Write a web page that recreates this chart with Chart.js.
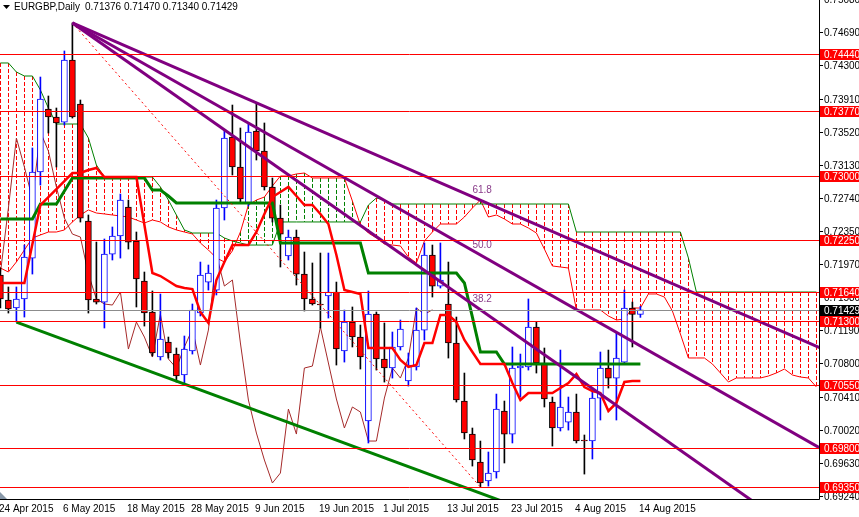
<!DOCTYPE html>
<html>
<head>
<meta charset="utf-8">
<title>EURGBP,Daily</title>
<script src="https://cdn.jsdelivr.net/npm/chart.js@4.4.1/dist/chart.umd.min.js"></script>
<style>
html,body{margin:0;padding:0;background:#ffffff;overflow:hidden;}
canvas{display:block;}
</style>
</head>
<body>
<canvas id="chart" width="859" height="517"></canvas>
<script>
// ---------- DATA ----------
const symbolTitle = 'EURGBP,Daily';
// daily candles, index 0 = 24 Apr 2015 ... index 80 = 14 Aug 2015
const opens = [0.71838,0.71544,0.71450,0.71556,0.72037,0.73048,0.73788,0.73694,0.73635,0.74364,
0.73847,0.72472,0.71556,0.71520,0.72084,0.72296,0.72637,0.72237,0.71767,0.71403,
0.70874,0.71050,0.70909,0.70663,0.70945,0.71391,0.71755,0.71661,0.72625,0.73459,
0.73107,0.72684,0.73530,0.73295,0.72872,0.72507,0.72061,0.72284,0.71849,0.71556,
0.71497,0.71591,0.71638,0.70945,0.71285,0.71109,0.70122,0.71379,0.70851,0.70745,
0.70992,0.70592,0.70757,0.71191,0.72073,0.71708,0.71497,0.71039,0.70357,0.69969,
0.69640,0.69417,0.69523,0.70240,0.69969,0.70745,0.70757,0.71227,0.70804,0.70345,
0.70040,0.70110,0.70228,0.69899,0.69887,0.70392,0.70745,0.70627,0.70815,0.71450,
0.71376];
const highs = [0.71920,0.71697,0.71697,0.72190,0.73330,0.74164,0.73941,0.73800,0.74470,0.74799,
0.73894,0.72543,0.72225,0.72261,0.72402,0.72789,0.72719,0.72343,0.71873,0.71650,
0.71614,0.71109,0.70980,0.71121,0.71497,0.71990,0.71955,0.72719,0.73541,0.73835,
0.73565,0.73624,0.73859,0.73624,0.72977,0.72660,0.72366,0.72366,0.72108,0.71979,
0.72096,0.72096,0.71755,0.71426,0.71462,0.71250,0.71650,0.71403,0.71274,0.71168,
0.71309,0.70921,0.71450,0.72214,0.72190,0.72214,0.71990,0.71344,0.70686,0.70040,
0.69887,0.69758,0.70439,0.70357,0.70992,0.70909,0.71556,0.71285,0.70980,0.70404,
0.70956,0.70404,0.70439,0.69958,0.70510,0.70933,0.70956,0.71156,0.71661,0.71520,
0.71470];
const lows = [0.71450,0.71391,0.71285,0.71344,0.71849,0.72895,0.73506,0.73107,0.73600,0.73682,
0.72460,0.71391,0.71497,0.71215,0.72014,0.72037,0.72143,0.71462,0.71238,0.70886,
0.70839,0.70862,0.70580,0.70557,0.70909,0.71356,0.71661,0.71603,0.72484,0.73013,
0.72684,0.72648,0.73189,0.72836,0.72460,0.71932,0.72014,0.71720,0.71415,0.71485,
0.71215,0.71332,0.70780,0.70815,0.70992,0.70733,0.69864,0.70721,0.70580,0.70627,
0.70956,0.70533,0.70721,0.71074,0.71579,0.71685,0.70862,0.70345,0.69911,0.69593,
0.69347,0.69358,0.69452,0.69629,0.69864,0.70404,0.70721,0.70686,0.70287,0.69828,
0.70005,0.70016,0.69864,0.69499,0.69676,0.70134,0.70510,0.70134,0.70803,0.70992,
0.71340];
const closes = [0.71556,0.71438,0.71556,0.72049,0.73048,0.73906,0.73694,0.73624,0.74364,0.73694,
0.72507,0.71544,0.71520,0.72084,0.72296,0.72719,0.72225,0.71791,0.71391,0.70921,
0.71086,0.70921,0.70651,0.70968,0.71426,0.71838,0.71861,0.72625,0.73447,0.73107,
0.72731,0.73518,0.73295,0.72872,0.72507,0.72319,0.72284,0.71849,0.71556,0.71497,
0.71485,0.71638,0.70968,0.71285,0.71109,0.70874,0.71379,0.70851,0.70745,0.70992,
0.71203,0.70780,0.71191,0.72073,0.71708,0.71779,0.71039,0.70369,0.69981,0.69664,
0.69394,0.69511,0.70263,0.69969,0.70745,0.70768,0.71227,0.70804,0.70381,0.70040,
0.70287,0.70228,0.69887,0.69887,0.70392,0.70745,0.70627,0.70862,0.71450,0.71376,
0.71429];

// Ichimoku lines
const tenkan = [0.71744,0.71744,0.71744,0.71744,0.72202,0.72660,0.72754,0.72848,0.72942,0.73036,
0.73036,0.73071,0.73095,0.72989,0.72989,0.72989,0.72989,0.72989,0.72425,0.71861,
0.71826,0.71767,0.71708,0.71685,0.71673,0.71403,0.71274,0.71779,0.71990,0.72190,
0.72190,0.72190,0.72343,0.72555,0.72754,0.72813,0.72872,0.72766,0.72660,0.72660,
0.72555,0.72437,0.72073,0.71661,0.71638,0.71614,0.70980,0.70980,0.70980,0.70980,
0.70839,0.70757,0.70780,0.71039,0.71039,0.71368,0.71368,0.71285,0.71074,0.70933,
0.70792,0.70792,0.70792,0.70792,0.70569,0.70369,0.70451,0.70451,0.70451,0.70451,
0.70510,0.70569,0.70675,0.70522,0.70475,0.70451,0.70240,0.70334,0.70581,0.70593,
0.70593];
const kijun = [0.72496,0.72496,0.72496,0.72496,0.72496,0.72672,0.72672,0.72672,0.72825,0.72977,
0.72977,0.72977,0.72977,0.72977,0.72977,0.72977,0.72977,0.72977,0.72977,0.72836,
0.72836,0.72766,0.72684,0.72684,0.72684,0.72684,0.72684,0.72684,0.72684,0.72684,
0.72684,0.72684,0.72684,0.72684,0.72684,0.72214,0.72214,0.72214,0.72214,0.72214,
0.72214,0.72214,0.72214,0.72214,0.72214,0.72214,0.71861,0.71861,0.71861,0.71861,
0.71861,0.71861,0.71861,0.71861,0.71861,0.71861,0.71861,0.71861,0.71744,0.71344,
0.70933,0.70933,0.70933,0.70792,0.70792,0.70792,0.70792,0.70792,0.70792,0.70792,
0.70792,0.70792,0.70792,0.70792,0.70792,0.70792,0.70792,0.70792,0.70792,0.70792,
0.70792];
// Senkou spans, index 0..102 (run 22 bars beyond the last candle)
const spanA = [0.71920,0.71873,0.71991,0.72132,0.72273,0.72308,0.72343,0.72343,0.72367,0.72461,
0.72543,0.72602,0.72566,0.72555,0.72543,0.72531,0.72519,0.72484,0.72449,0.72484,
0.72461,0.72403,0.72367,0.72343,0.72320,0.72214,0.72132,0.72038,0.71991,0.72121,
0.72343,0.72660,0.72719,0.72754,0.72884,0.73001,0.73001,0.73025,0.73036,0.72978,
0.72978,0.72978,0.72978,0.72978,0.72707,0.72425,0.72331,0.72273,0.72202,0.72190,
0.72179,0.72049,0.71979,0.72237,0.72343,0.72437,0.72437,0.72437,0.72519,0.72625,
0.72719,0.72519,0.72543,0.72496,0.72437,0.72437,0.72390,0.72331,0.72143,0.71944,
0.71932,0.71920,0.71427,0.71427,0.71427,0.71427,0.71356,0.71309,0.71321,0.71450,
0.71450,0.71615,0.71615,0.71579,0.71415,0.71145,0.70863,0.70863,0.70863,0.70792,
0.70687,0.70581,0.70628,0.70628,0.70628,0.70628,0.70651,0.70687,0.70733,0.70663,
0.70639,0.70628,0.70522];
const spanB = [0.74329,0.74329,0.74223,0.74176,0.74176,0.74012,0.73800,0.73612,0.73612,0.73612,
0.73612,0.73448,0.73130,0.72989,0.72989,0.72989,0.72989,0.72989,0.72989,0.72989,
0.72872,0.72719,0.72543,0.72367,0.72331,0.72331,0.72331,0.72331,0.72273,0.72237,
0.72214,0.72190,0.72190,0.72190,0.72190,0.72461,0.72461,0.72461,0.72461,0.72461,
0.72461,0.72461,0.72461,0.72461,0.72461,0.72461,0.72660,0.72743,0.72719,0.72672,
0.72672,0.72672,0.72672,0.72672,0.72672,0.72672,0.72672,0.72672,0.72672,0.72672,
0.72672,0.72672,0.72672,0.72672,0.72672,0.72672,0.72672,0.72672,0.72672,0.72672,
0.72672,0.72672,0.72343,0.72343,0.72343,0.72343,0.72343,0.72343,0.72343,0.72343,
0.72343,0.72343,0.72343,0.72343,0.72343,0.72343,0.72038,0.71638,0.71638,0.71638,
0.71638,0.71638,0.71638,0.71638,0.71638,0.71638,0.71638,0.71638,0.71638,0.71638,
0.71638,0.71638,0.71638];
const chikouShift = 26;

// horizontal support / resistance levels
const levels = [0.74440,0.73770,0.73000,0.72250,0.71640,0.71300,0.70550,0.69800,0.69350];
const bidPrice = 0.71429;
// price axis tick labels
const yTicks = [0.75080,0.74690,0.74300,0.73910,0.73520,0.73130,0.72740,0.72350,0.71970,0.71580,0.71190,0.70800,0.70410,0.70020,0.69630,0.69240];
// time axis labels and their bar index
const dateLabels = ['24 Apr 2015','6 May 2015','18 May 2015','28 May 2015','9 Jun 2015','19 Jun 2015','1 Jul 2015','13 Jul 2015','23 Jul 2015','4 Aug 2015','14 Aug 2015'];
const dateIndex = [0,8,16,24,32,40,48,56,64,72,80];
// Fibonacci fan: anchor high and low, and its levels
const fanHigh = {i:9, p:0.74799};
const fanLow = {i:60, p:0.69347};
const fanLevels = [0.382,0.500,0.618];
const fanTexts = ['38.2','50.0','61.8'];
// lower green trend line through two lows
const trendA = {i:2, p:0.71285};
const trendB = {i:23, p:0.70557};

// ---------- SCALES ----------
const X_MIN = -0.05, X_MAX = 102.325;
const Y_MIN = 0.69206, Y_MAX = 0.75069;

const FONT = '10px "Liberation Sans", Arial, sans-serif';
const RED = '#ff0000', GREEN = '#008000', PURPLE = '#800080', BLUE = '#0000ff';

function pts(arr, shift){ return arr.map((v,i)=>({x:i+(shift||0), y:v})); }
function extend(a, b, xEnd){ // ray from a through b, to xEnd
  const k = (b.p - a.p)/(b.i - a.i);
  return [{x:a.i, y:a.p},{x:xEnd, y:a.p + k*(xEnd - a.i)}];
}

const isUp = closes.map((c,i)=> c >= opens[i]);

const datasets = [];
// cloud borders
datasets.push({type:'line', data:pts(spanA), borderColor:RED, borderWidth:1, pointRadius:0, order:100});
datasets.push({type:'line', data:pts(spanB), borderColor:GREEN, borderWidth:1, pointRadius:0, order:99});
// chikou span
datasets.push({type:'line', data:pts(closes,-chikouShift), borderColor:'#a52a2a', borderWidth:1, pointRadius:0, order:98});
// wicks
datasets.push({type:'bar', data:highs.map((h,i)=>({x:i, y:[lows[i],h]})), backgroundColor:isUp.map(u=>u?BLUE:'#000000'),
  barThickness:1, grouped:false, borderWidth:0, order:90});
// bodies
datasets.push({type:'bar', data:opens.map((o,i)=>({x:i, y:[o,closes[i]]})), backgroundColor:isUp.map(u=>u?'#ffffff':RED),
  borderColor:isUp.map(u=>u?BLUE:'#000000'), borderWidth:1, borderSkipped:false, barThickness:6, grouped:false, minBarLength:1, order:89});
// kijun & tenkan
datasets.push({type:'line', data:pts(kijun), borderColor:GREEN, borderWidth:3, pointRadius:0, order:80});
datasets.push({type:'line', data:pts(tenkan), borderColor:RED, borderWidth:2.5, pointRadius:0, order:79});
// fib fan base (dotted)
datasets.push({type:'line', data:[{x:fanHigh.i,y:fanHigh.p},{x:fanLow.i,y:fanLow.p}], borderColor:RED, borderWidth:1, borderDash:[2,3], pointRadius:0, order:30});
// fib fan lines
fanLevels.forEach((lv,k)=>{
  const b = {i:fanLow.i, p:fanLow.p + lv*(fanHigh.p - fanLow.p)};
  datasets.push({type:'line', data:extend(fanHigh, b, X_MAX+2), borderColor:PURPLE, borderWidth:3, pointRadius:0, order:20+k});
});
// green trend line
datasets.push({type:'line', data:extend(trendA, trendB, X_MAX+2), borderColor:GREEN, borderWidth:3, pointRadius:0, order:10});

// ---------- PLUGINS ----------
const hatchPlugin = {
  id:'hatch',
  beforeDatasetsDraw(chart){
    const {ctx, chartArea:ca, scales:{x,y}} = chart;
    ctx.save();
    ctx.beginPath(); ctx.rect(ca.left, ca.top, ca.right-ca.left, ca.bottom-ca.top); ctx.clip();
    ctx.lineWidth = 1; ctx.setLineDash([4,2]);
    for(let i=0;i<spanA.length;i++){
      const a = spanA[i], b = spanB[i];
      const px = Math.round(x.getPixelForValue(i)) + 0.5;
      const ya = y.getPixelForValue(a), yb = y.getPixelForValue(b);
      ctx.strokeStyle = a > b ? GREEN : RED;
      ctx.beginPath(); ctx.moveTo(px, Math.min(ya,yb)); ctx.lineTo(px, Math.max(ya,yb)); ctx.stroke();
    }
    ctx.restore();
  }
};

const levelPlugin = {
  id:'levels',
  afterDatasetsDraw(chart){
    const {ctx, chartArea:ca, scales:{x,y}} = chart;
    ctx.save();
    ctx.lineWidth = 1;
    // bid line
    let yy = Math.round(y.getPixelForValue(bidPrice)) + 0.5;
    ctx.strokeStyle = '#8c8c8c';
    ctx.beginPath(); ctx.moveTo(ca.left, yy); ctx.lineTo(ca.right, yy); ctx.stroke();
    ctx.strokeStyle = RED;
    levels.forEach(l=>{
      const yl = Math.round(y.getPixelForValue(l)) + 0.5;
      ctx.beginPath(); ctx.moveTo(ca.left, yl); ctx.lineTo(ca.right, yl); ctx.stroke();
    });
    // fan level texts
    ctx.font = FONT; ctx.fillStyle = '#8a3c8a'; ctx.textBaseline = 'middle'; ctx.textAlign = 'left';
    fanLevels.forEach((lv,k)=>{
      const p = fanLow.p + lv*(fanHigh.p - fanLow.p);
      ctx.fillText(fanTexts[k], x.getPixelForValue(fanLow.i) - 8, y.getPixelForValue(p) - 10);
    });
    ctx.restore();
  },
  afterDraw(chart){
    const {ctx, chartArea:ca, scales:{x,y}} = chart;
    ctx.save();
    // axis lines
    ctx.strokeStyle = '#000000'; ctx.lineWidth = 1;
    ctx.beginPath();
    ctx.moveTo(ca.right + 0.5, 0); ctx.lineTo(ca.right + 0.5, ca.bottom + 0.5);
    ctx.moveTo(0, ca.bottom + 0.5); ctx.lineTo(ca.right + 0.5, ca.bottom + 0.5);
    ctx.stroke();
    ctx.font = FONT; ctx.textBaseline = 'middle'; ctx.textAlign = 'left';
    // price ticks
    yTicks.forEach(t=>{
      const yy = Math.round(y.getPixelForValue(t));
      ctx.strokeStyle = '#000'; ctx.beginPath(); ctx.moveTo(ca.right+1, yy+0.5); ctx.lineTo(ca.right+4, yy+0.5); ctx.stroke();
      ctx.fillStyle = '#000'; ctx.fillText(t.toFixed(5), ca.right+5, yy+1);
    });
    // level boxes
    const box = (p, bg)=>{
      const yy = Math.round(y.getPixelForValue(p));
      ctx.fillStyle = bg; ctx.fillRect(ca.right+1, yy-5, chart.width-ca.right-1, 11);
      ctx.fillStyle = '#ffffff'; ctx.fillText(p.toFixed(5), ca.right+5, yy+1);
    };
    levels.forEach(l=>box(l, RED));
    box(bidPrice, '#000000');
    // date labels
    ctx.fillStyle = '#000';
    dateIndex.forEach((di,k)=>{
      const xx = Math.round(x.getPixelForValue(di));
      ctx.fillText(dateLabels[k], xx-1, ca.bottom + 10);
    });
    // shift marker
    ctx.fillStyle = '#8898a8';
    ctx.beginPath(); ctx.moveTo(0, ca.bottom-7); ctx.lineTo(0, ca.bottom); ctx.lineTo(7, ca.bottom); ctx.closePath(); ctx.fill();
    // title
    const n = opens.length-1;
    ctx.fillStyle = '#000';
    ctx.beginPath(); ctx.moveTo(3,5); ctx.lineTo(10,5); ctx.lineTo(6.5,9); ctx.closePath(); ctx.fill();
    ctx.fillText(symbolTitle, 14, 7);
    ctx.fillText([opens[n],highs[n],lows[n],closes[n]].map(v=>v.toFixed(5)).join(' '), 85, 7);
    ctx.restore();
  }
};

new Chart(document.getElementById('chart').getContext('2d'), {
  type:'line',
  data:{datasets},
  options:{
    responsive:false, animation:false, devicePixelRatio:1,
    layout:{padding:{left:0, right:40, top:0, bottom:18}},
    plugins:{legend:{display:false}, tooltip:{enabled:false}, title:{display:false}},
    elements:{line:{tension:0}, point:{radius:0}},
    scales:{
      x:{type:'linear', min:X_MIN, max:X_MAX, display:false, offset:false},
      y:{type:'linear', min:Y_MIN, max:Y_MAX, display:false}
    }
  },
  plugins:[hatchPlugin, levelPlugin]
});
</script>
</body>
</html>
